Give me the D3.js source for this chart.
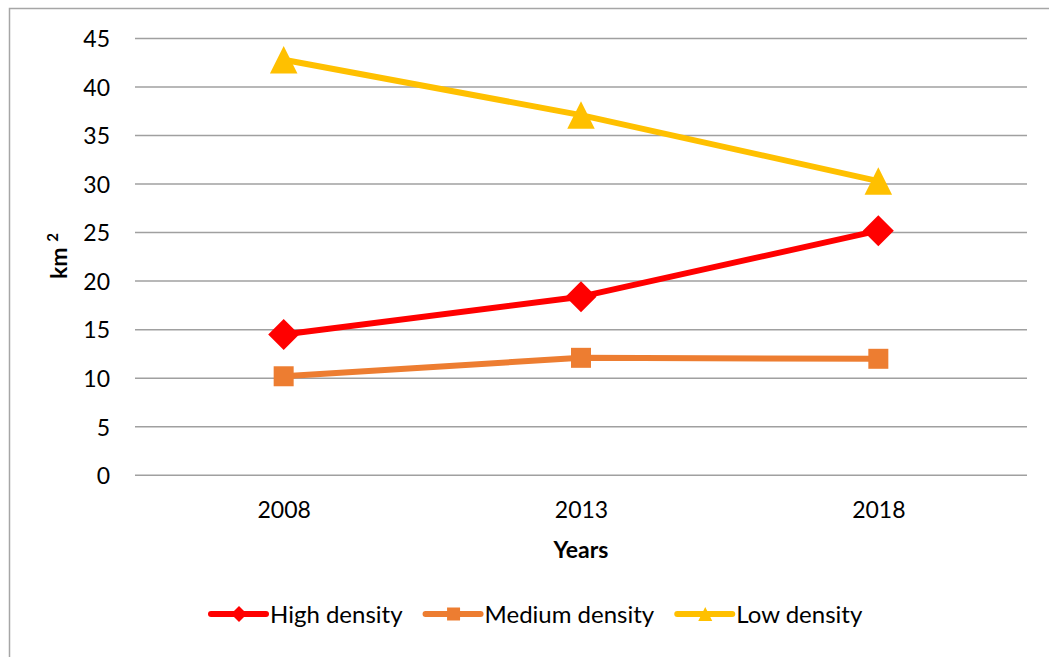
<!DOCTYPE html>
<html>
<head>
<meta charset="utf-8">
<script src="https://cdn.jsdelivr.net/npm/d3@7"></script>
<style>
  html, body { margin: 0; padding: 0; background: #fff; }
  svg { display: block; font-family: Lato, "Open Sans", sans-serif; }
</style>
</head>
<body>
<svg id="chart" width="1049" height="657"></svg>
<script>
// ---- data ----
const years = ["2008", "2013", "2018"];
const highDensity = [14.5, 18.4, 25.2];
const mediumDensity = [10.2, 12.1, 12.0];
const lowDensity = [42.8, 37.1, 30.3];
const yTicks = [0, 5, 10, 15, 20, 25, 30, 35, 40, 45];
const seriesNames = ["High density", "Medium density", "Low density"];

// ---- layout ----
const svg = d3.select("#chart");
const W = 1049, H = 657;
const plot = { left: 135, right: 1027, top: 38.4, bottom: 475.3 };
const colors = ["#FF0000", "#ED7D31", "#FFC000"];
const shapes = ["diamond", "square", "triangle"];
const fontSize = 23;

// outer border
svg.append("rect")
  .attr("x", 9.5).attr("y", 8.5)
  .attr("width", W + 20).attr("height", H + 20)
  .attr("fill", "none").attr("stroke", "#a6a6a6").attr("stroke-width", 1.5);

const x = d3.scalePoint().domain(years).range([plot.left, plot.right]).padding(0.5);
const y = d3.scaleLinear().domain([0, 45]).range([plot.bottom, plot.top]);

// gridlines
svg.append("g").selectAll("line").data(yTicks).join("line")
  .attr("x1", plot.left).attr("x2", plot.right)
  .attr("y1", d => y(d)).attr("y2", d => y(d))
  .attr("stroke", "#a0a0a0").attr("stroke-width", 1.5);

// y axis labels
const yAxis = d3.axisLeft(y).tickValues(yTicks).tickSize(0).tickPadding(0);
const gy = svg.append("g").attr("transform", `translate(110,0)`).call(yAxis);
gy.select(".domain").remove();
gy.selectAll("text").attr("font-size", fontSize).attr("fill", "#000")
  .attr("font-family", "Lato, sans-serif").attr("dy", "0.36em");

// x axis labels
const xAxis = d3.axisBottom(x).tickSize(0).tickPadding(0);
const gx = svg.append("g").attr("transform", `translate(0,${plot.bottom})`).call(xAxis);
gx.select(".domain").remove();
gx.selectAll("text").attr("font-size", fontSize).attr("fill", "#000")
  .attr("font-family", "Lato, sans-serif").attr("dy", null).attr("y", 43);

// axis titles
svg.append("text")
  .attr("x", 581).attr("y", 558)
  .attr("text-anchor", "middle").attr("font-size", fontSize).attr("font-weight", "bold")
  .text("Years");

const yt = svg.append("text")
  .attr("transform", "translate(67,256) rotate(-90)")
  .attr("text-anchor", "middle").attr("font-size", fontSize).attr("font-weight", "bold");
yt.append("tspan").text("km ");
yt.append("tspan").attr("font-size", 15).attr("dy", -9).text("2");

// marker path generator
function markerPath(shape, s) {
  const h = s / 2;
  if (shape === "diamond") return `M0,${-h}L${h},0L0,${h}L${-h},0Z`;
  if (shape === "square") return `M${-h},${-h}H${h}V${h}H${-h}Z`;
  return `M0,${-h}L${h},${h}L${-h},${h}Z`;
}
const markerSizes = [31, 20, 27.5];
const legendMarkerSizes = [16, 13, 14];

const allSeries = [highDensity, mediumDensity, lowDensity];
const line = d3.line().x((d, i) => x(years[i])).y(d => y(d));

allSeries.forEach((vals, si) => {
  const g = svg.append("g");
  g.append("path").datum(vals)
    .attr("d", line)
    .attr("fill", "none").attr("stroke", colors[si])
    .attr("stroke-width", 6).attr("stroke-linejoin", "round").attr("stroke-linecap", "round");
  g.selectAll("path.m").data(vals).join("path").attr("class", "m")
    .attr("transform", (d, i) => `translate(${x(years[i])},${y(d)})`)
    .attr("d", markerPath(shapes[si], markerSizes[si]))
    .attr("fill", colors[si]);
});

// legend
const legendFont = 24;
const legend = svg.append("g").attr("transform", "translate(211,614)");
let lx = 0;
seriesNames.forEach((name, si) => {
  const g = legend.append("g").attr("transform", `translate(${lx},0)`);
  g.append("line").attr("x1", 0).attr("x2", 55).attr("y1", 0).attr("y2", 0)
    .attr("stroke", colors[si]).attr("stroke-width", 6).attr("stroke-linecap", "round");
  g.append("path").attr("transform", "translate(28,0)")
    .attr("d", markerPath(shapes[si], legendMarkerSizes[si])).attr("fill", colors[si]);
  const t = g.append("text").attr("x", 59).attr("y", 0).attr("dy", "0.36em")
    .attr("font-size", legendFont).attr("fill", "#000").text(name);
  const w = t.node().getComputedTextLength();
  lx += 59 + w + 23;
});
</script>
</body>
</html>
